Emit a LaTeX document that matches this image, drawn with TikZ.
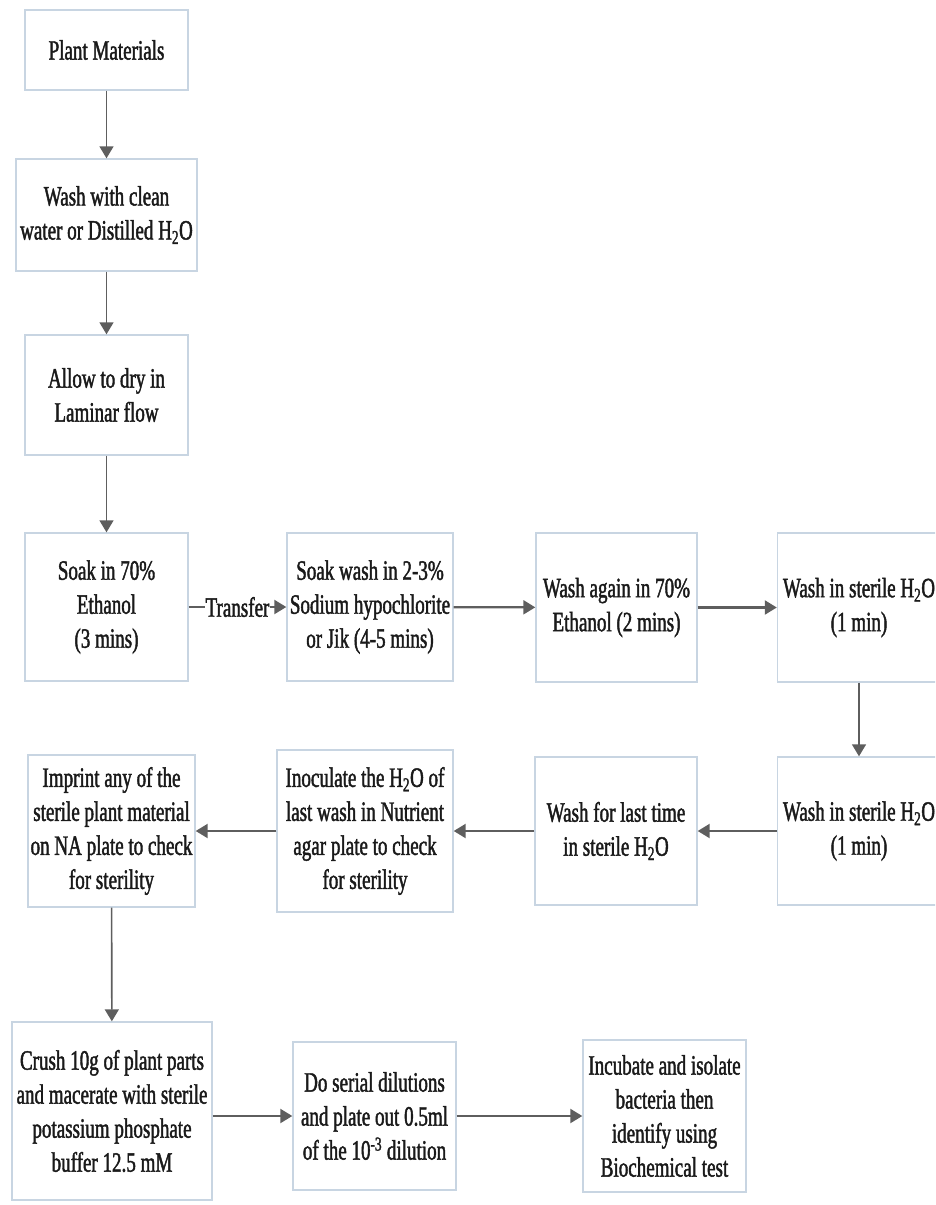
\documentclass[tikz,border=0pt]{standalone}
\usepackage{fontspec}
\setmainfont{Liberation Serif}[FakeStretch=0.68,FakeBold=1.5]
\usetikzlibrary{arrows.meta}
\definecolor{boxc}{HTML}{C8D5E2}
\definecolor{arrc}{HTML}{5E5E5E}
\definecolor{txtc}{HTML}{1A1A1A}
\tikzset{
  stepbox/.style={draw=boxc, line width=1.4pt, fill=white, align=center, inner sep=2pt,
    text=txtc, font=\fontsize{28}{34}\selectfont},
  flow/.style={draw=arrc, line width=2.2pt, -{Triangle[length=12pt,width=14pt]}},
  vflow/.style={flow, line width=1.6pt},
}
\newcommand{\Hdo}{H\textsubscript{2}O}
\begin{document}
\begin{tikzpicture}[x=1pt,y=-1pt]
\useasboundingbox (0,0) rectangle (935,1205);
\begin{scope}
\clip (0,0) rectangle (935,1205);
\node[stepbox, minimum width=163pt, minimum height=80pt] (n1) at (106.5,50) {Plant Materials};
\node[stepbox, minimum width=181pt, minimum height=112pt] (n2) at (106.5,215) {Wash with clean\\water or Distilled \Hdo};
\node[stepbox, minimum width=163pt, minimum height=120pt] (n3) at (106.5,395) {Allow to dry in\\Laminar flow};
\node[stepbox, minimum width=163pt, minimum height=148pt] (n4) at (106.5,607) {Soak in 70\%\\Ethanol\\(3 mins)};
\node[stepbox, minimum width=166pt, minimum height=148pt] (n5) at (370,607) {Soak wash in 2-3\%\\Sodium hypochlorite\\or Jik (4-5 mins)};
\node[stepbox, minimum width=161pt, minimum height=149pt] (n6) at (616.5,607.5) {Wash again in 70\%\\Ethanol (2 mins)};
\node[stepbox, minimum width=163pt, minimum height=149pt] (n7) at (859,607.5) {Wash in sterile \Hdo\\(1 min)};
\node[stepbox, minimum width=163pt, minimum height=148pt] (n8) at (859,831) {Wash in sterile \Hdo\\(1 min)};
\node[stepbox, minimum width=162pt, minimum height=148pt] (n9) at (616,831) {Wash for last time\\in sterile \Hdo};
\node[stepbox, minimum width=176pt, minimum height=162pt] (n10) at (365,831) {Inoculate the \Hdo{} of\\last wash in Nutrient\\agar plate to check\\for sterility};
\node[stepbox, minimum width=167pt, minimum height=152pt] (n11) at (111.5,831) {Imprint any of the\\sterile plant material\\on NA plate to check\\for sterility};
\node[stepbox, minimum width=200pt, minimum height=178pt] (n12) at (112,1111) {Crush 10g of plant parts\\and macerate with sterile\\potassium phosphate\\buffer 12.5 mM};
\node[stepbox, minimum width=163pt, minimum height=148pt] (n13) at (374.5,1116) {Do serial dilutions\\and plate out 0.5ml\\of the 10\textsuperscript{-3} dilution};
\node[stepbox, minimum width=163pt, minimum height=152pt] (n14) at (664.5,1116) {Incubate and isolate\\bacteria then\\identify using\\Biochemical test};

\draw[vflow] (n1) -- (n2);
\draw[vflow] (n2) -- (n3);
\draw[vflow] (n3) -- (n4);
\draw[flow] (n4) -- node[fill=white, inner sep=1pt, text=txtc, font=\fontsize{28}{34}\selectfont] (tr) {Transfer} (n5);
\draw[flow] (n5) -- (n6);
\draw[flow] (n6) -- (n7);
\draw[vflow] (n7) -- (n8);
\draw[flow] (n8) -- (n9);
\draw[flow] (n9) -- (n10);
\draw[flow] (n10) -- (n11);
\draw[vflow] (n11) -- (n12);
\draw[flow] (n12.east |- n13.west) -- (n13.west);
\draw[flow] (n13) -- (n14);
\end{scope}
\end{tikzpicture}
\end{document}
